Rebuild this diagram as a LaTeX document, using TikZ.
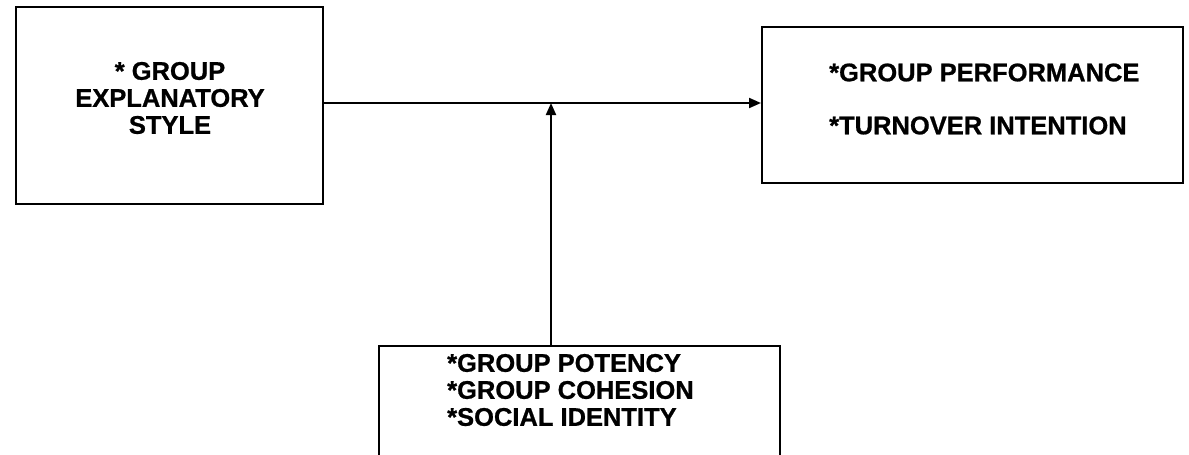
\documentclass[tikz,border=0pt]{standalone}
\usepackage{fontspec}
\setmainfont{Liberation Sans}[BoldFeatures={FakeBold=0.8}]
\usetikzlibrary{arrows.meta}
\begin{document}
\begin{tikzpicture}[x=1pt,y=-1pt,
  box/.style={draw,line width=2.1pt,rectangle,inner sep=0pt,anchor=north west},
  lbl/.style={font=\fontsize{25.5}{27}\selectfont\bfseries,inner sep=0pt},
  conn/.style={line width=2pt,-{Triangle[length=12pt,width=10pt]}}]
\useasboundingbox (0,0) rectangle (1189,455);
\node[box,minimum width=307pt,minimum height=197pt] (L) at (15,6) {};
\node[box,minimum width=421pt,minimum height=156pt] (R) at (761,26) {};
\node[box,minimum width=401pt,minimum height=140pt] (B) at (378,345) {};
\node[lbl,align=center] (Lt) at (170,98) {* GROUP\\EXPLANATORY\\STYLE};
\node[lbl,align=left,anchor=west] (Rt) at (829,99) {*GROUP PERFORMANCE\\[26pt]*TURNOVER INTENTION};
\node[lbl,align=left,anchor=west] (Bt) at (447,390) {*GROUP POTENCY\\*GROUP COHESION\\*SOCIAL IDENTITY};
\coordinate (J) at (551,103);
\draw[conn] (L.east |- J) -- (R.west |- J);
\draw[conn] (B.north -| J) -- (J);
\end{tikzpicture}
\end{document}
